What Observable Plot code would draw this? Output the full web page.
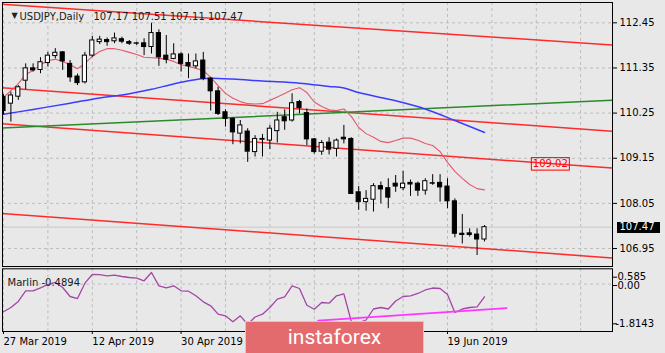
<!DOCTYPE html>
<html><head><meta charset="utf-8">
<script src="https://cdn.jsdelivr.net/npm/d3@7"></script>
<script src="https://cdn.jsdelivr.net/npm/@observablehq/plot@0.6"></script>
<style>
html,body{margin:0;padding:0;background:#e8e8e8;}
#wrap{position:relative;width:665px;height:353px;overflow:hidden;background:#e8e8e8;font-family:"DejaVu Sans";}
#main{position:absolute;left:0;top:0;}
#sub{position:absolute;left:0;top:266px;}
#logo{position:absolute;left:245px;top:321px;width:179px;height:34px;background:#e46b6d;border:1px solid #f2bcbc;color:#fff;font:21px Roboto;display:flex;align-items:center;justify-content:center;box-sizing:border-box;padding-bottom:2px;}
</style></head>
<body><div id="wrap"><div id="main"></div><div id="sub"></div><div id="logo">instaforex</div></div>
<script>
const symbolName = "USDJPY", periodName = "Daily";
const opens  = [110.64,110.48,110.65,111.04,111.34,111.30,111.47,111.64,111.73,111.45,111.14,111.00,111.65,111.98,112.03,112.00,112.05,111.98,111.94,111.95,111.86,112.20,111.65,111.57,111.68,111.47,111.39,111.53,111.09,110.78,110.27,110.11,109.75,109.80,109.30,109.60,109.58,109.81,110.15,110.07,110.52,110.25,109.61,109.31,109.53,109.38,109.65,109.62,108.32,108.08,108.14,108.47,108.42,108.53,108.42,108.55,108.53,108.36,108.54,108.55,108.46,108.10,107.31,107.32,107.29,107.17];
const highs  = [110.70,110.76,110.92,111.45,111.45,111.60,111.73,111.82,111.75,111.53,111.20,111.73,112.12,112.12,112.08,112.20,112.10,112.02,111.98,112.06,112.44,112.28,112.14,111.94,111.72,111.69,111.69,111.73,111.12,110.88,110.33,110.13,110.07,109.87,109.70,109.73,109.95,110.27,110.33,110.72,110.56,110.35,109.63,109.58,109.65,109.62,109.95,109.65,108.46,108.36,108.53,108.57,108.65,108.73,108.83,108.62,108.57,108.65,108.75,108.75,108.65,108.16,107.78,107.43,107.43,107.51];
const lows   = [110.20,110.03,110.56,110.82,111.25,111.21,111.37,111.57,111.29,111.00,110.92,110.96,111.61,111.92,111.88,111.94,111.94,111.90,111.90,111.65,111.69,111.39,111.45,111.55,111.25,111.09,111.33,111.04,110.30,110.19,109.91,109.48,109.50,109.05,109.18,109.18,109.36,109.52,109.83,110.03,110.23,109.46,109.25,109.22,109.23,109.18,109.50,108.27,107.88,107.86,107.84,108.04,107.92,108.32,108.36,108.22,108.22,108.25,108.49,108.08,107.92,107.21,107.06,107.23,106.78,107.11];
const closes = [110.30,110.68,110.88,111.34,111.29,111.49,111.65,111.72,111.51,111.12,110.98,111.65,112.02,112.04,111.98,112.07,111.99,111.94,111.95,111.86,112.20,111.61,111.55,111.68,111.45,111.39,111.51,111.09,110.78,110.23,110.11,109.78,109.95,109.31,109.62,109.62,109.87,110.07,110.05,110.49,110.37,109.61,109.30,109.52,109.36,109.58,109.61,108.28,108.08,108.16,108.47,108.39,108.19,108.46,108.53,108.51,108.36,108.59,108.53,108.44,108.10,107.31,107.28,107.28,107.17,107.47];
const redMA = [110.63,110.80,110.97,111.19,111.29,111.42,111.53,111.56,111.51,111.43,111.33,111.46,111.63,111.75,111.82,111.82,111.78,111.73,111.68,111.61,111.60,111.59,111.56,111.51,111.43,111.39,111.34,111.29,111.12,110.92,110.73,110.61,110.53,110.48,110.47,110.48,110.56,110.64,110.73,110.82,110.87,110.75,110.52,110.41,110.33,110.31,110.35,110.17,109.90,109.75,109.66,109.56,109.53,109.58,109.64,109.64,109.59,109.51,109.46,109.31,109.05,108.83,108.66,108.51,108.41,108.38];
const blueIdx = [0,4,9,13,16,20,23,25,28,31,35,40,44,46,48,53,57,61,65];
const blueMA  = [110.22,110.34,110.49,110.62,110.69,110.83,110.96,111.04,111.10,111.08,111.03,110.98,110.90,110.86,110.75,110.55,110.35,110.07,109.78];
const marlin = [-1.060,-0.896,-0.666,-0.257,-0.257,-0.142,-0.016,0.061,-0.131,-0.475,-0.552,0.034,0.367,0.360,0.317,0.340,0.290,0.252,0.225,0.126,0.443,-0.066,-0.142,-0.066,-0.257,-0.272,-0.448,-0.678,-0.831,-1.152,-1.214,-1.443,-1.214,-1.535,-1.259,-1.152,-0.896,-0.578,-0.486,-0.066,-0.169,-0.808,-0.961,-0.705,-0.731,-0.448,-0.372,-1.432,-1.470,-1.374,-0.953,-0.896,-0.953,-0.647,-0.475,-0.448,-0.360,-0.226,-0.150,-0.169,-0.398,-1.087,-0.953,-0.896,-0.869,-0.4894];
const trendIdx = [-1, 83];
const redTop = [112.91, 111.90];
const redMid = [110.88, 109.80];
const redLow = [110.00, 108.90];
const redBottom = [107.815, 106.71];
const greenLine = [109.88, 110.57];
const magentaIdx = [42.5, 68];
const magentaVal = [-1.40, -0.92];
const levelIdx = [73.9];
const levelVal = [109.02];
const priceTicks = [112.45,111.35,110.25,109.15,108.05,106.95];
const gridIdx = [0,6,12,18,24,30,36,42,48,54,60,66,72,78];
const dateIdx = [0,12,24,60];
const dateLabels = ["27 Mar 2019","12 Apr 2019","30 Apr 2019","19 Jun 2019"];
const subTicks = [0.585, 0, -1.8143];
const subTickLabels = ["0.585","0.00","-1.8143"];
const xDomain = [-0.135, 82.3];
const yDomain = [106.512, 112.945];
const subDomain = [-1.8143, 0.585];

const last = closes.length - 1;
const bars = opens.map((o, i) => ({i, o, h: highs[i], l: lows[i], c: closes[i]}));
const pts = (idx, vals) => idx.map((i, k) => ({i, v: vals[k]}));
const gridColor = "#bcbcbc";
const style = {background: "transparent", fontFamily: "DejaVu Sans", fontSize: "10px", color: "#000", overflow: "visible"};
const trendStyle = {x: "i", y: "v", stroke: "#ff2a2a", strokeWidth: 1.5, clip: true};

const main = Plot.plot({
  width: 665, height: 268, marginLeft: 2, marginRight: 53, marginTop: 2, marginBottom: 2,
  x: {domain: xDomain, axis: null},
  y: {domain: yDomain},
  style,
  marks: [
    Plot.gridY(priceTicks, {stroke: gridColor, strokeOpacity: 1, strokeDasharray: "3,3"}),
    Plot.gridX(gridIdx, {stroke: gridColor, strokeOpacity: 1, strokeDasharray: "3,3"}),
    Plot.ruleY([closes[last]], {stroke: "#c9c9c9"}),
    Plot.line(pts(trendIdx, redTop), trendStyle),
    Plot.line(pts(trendIdx, redMid), trendStyle),
    Plot.line(pts(trendIdx, redLow), trendStyle),
    Plot.line(pts(trendIdx, redBottom), trendStyle),
    Plot.line(pts(trendIdx, greenLine), {x: "i", y: "v", stroke: "#2a8a2a", strokeWidth: 1.5, clip: true}),
    Plot.line(pts(blueIdx, blueMA), {x: "i", y: "v", stroke: "#3c3cff", strokeWidth: 1.5, clip: true, curve: "monotone-x"}),
    Plot.line(redMA.map((v, i) => ({i, v})), {x: "i", y: "v", stroke: "#e4596d", strokeWidth: 1.1, clip: true}),
    Plot.ruleX(bars, {x: "i", y1: "l", y2: "h", stroke: "#000", clip: true}),
    Plot.rect(bars, {x1: d => d.i - 0.28, x2: d => d.i + 0.28, y1: "o", y2: "c",
      fill: d => d.c >= d.o ? "#fff" : "#000", stroke: "#000", strokeWidth: 1, clip: true}),
    Plot.text(pts(levelIdx, levelVal), {x: "i", y: "v", text: d => d.v.toFixed(2), fill: "#ff0000"}),
    Plot.frame({stroke: "#000"}),
    Plot.axisY(priceTicks, {anchor: "right", label: null, tickSize: 4, tickPadding: 3, tickFormat: d => d.toFixed(2)}),
    Plot.text([closes[last]], {y: d => d, frameAnchor: "right", dx: 7, textAnchor: "start", text: d => d.toFixed(2), fill: "#fff"}),
    Plot.text(["\u25BC"], {frameAnchor: "top-left", dx: 9, dy: 10, fontSize: 8, fill: "#222", textAnchor: "start"}),
    Plot.text([`${symbolName},${periodName}`], {frameAnchor: "top-left", dx: 17, dy: 10, textAnchor: "start", fill: "#1a1a1a"}),
    Plot.text([[opens[last], highs[last], lows[last], closes[last]].map(v => v.toFixed(2)).join(" ")],
      {frameAnchor: "top-left", dx: 91, dy: 10, textAnchor: "start", fill: "#1a1a1a"})
  ]
});

const sub = Plot.plot({
  width: 665, height: 87, marginLeft: 2, marginRight: 53, marginTop: 2.3, marginBottom: 22,
  x: {domain: xDomain},
  y: {domain: subDomain},
  style,
  marks: [
    Plot.gridX(gridIdx, {stroke: gridColor, strokeOpacity: 1, strokeDasharray: "3,3"}),
    Plot.gridY([0], {stroke: gridColor, strokeOpacity: 1, strokeDasharray: "3,3"}),
    Plot.line(marlin.map((v, i) => ({i, v})), {x: "i", y: "v", stroke: "#a445a8", strokeWidth: 1.3, clip: true}),
    Plot.line(pts(magentaIdx, magentaVal), {x: "i", y: "v", stroke: "#ff36ff", strokeWidth: 1.6, clip: true}),
    Plot.frame({stroke: "#000"}),
    Plot.axisX(dateIdx, {anchor: "bottom", label: null, tickSize: 3, tickPadding: 3, textAnchor: "start",
      tickFormat: i => dateLabels[dateIdx.indexOf(i)]}),
    Plot.axisY([subTicks[0]], {anchor: "right", label: null, tickSize: 4, tickPadding: 1, dy: 8.4, tickFormat: d => subTickLabels[subTicks.indexOf(d)]}),
    Plot.axisY([subTicks[1]], {anchor: "right", label: null, tickSize: 4, tickPadding: 1, dy: 1.4, tickFormat: d => subTickLabels[subTicks.indexOf(d)]}),
    Plot.axisY([subTicks[2]], {anchor: "right", label: null, tickSize: 4, tickPadding: -1, dy: -7.7, tickFormat: d => subTickLabels[subTicks.indexOf(d)]}),
    Plot.text([`Marlin ${marlin[last].toFixed(4)}`], {frameAnchor: "top-left", dx: 5, dy: 10, textAnchor: "start", fill: "#1a1a1a"})
  ]
});

document.getElementById("main").appendChild(main);
document.getElementById("sub").appendChild(sub);

function boxLabel(svg, content, padL, padR, h, fill, stroke) {
  d3.select(svg).selectAll("text").filter(function(){ return this.textContent === content; }).each(function(){
    const b = this.getBBox();
    const cy = b.y + b.height / 2 + 0.6;
    const node = this;
    d3.select(this.parentNode).insert("rect", () => node)
      .attr("x", b.x - padL).attr("width", b.width + padL + padR)
      .attr("y", cy - h / 2).attr("height", h)
      .attr("transform", node.getAttribute("transform"))
      .attr("fill", fill).attr("stroke", stroke);
  });
}
boxLabel(main, closes[last].toFixed(2), 2.5, 5.5, 11, "#000", "none");
boxLabel(main, levelVal[0].toFixed(2), 1.5, 1.5, 12.5, "none", "#ff0000");
</script>
</body></html>
